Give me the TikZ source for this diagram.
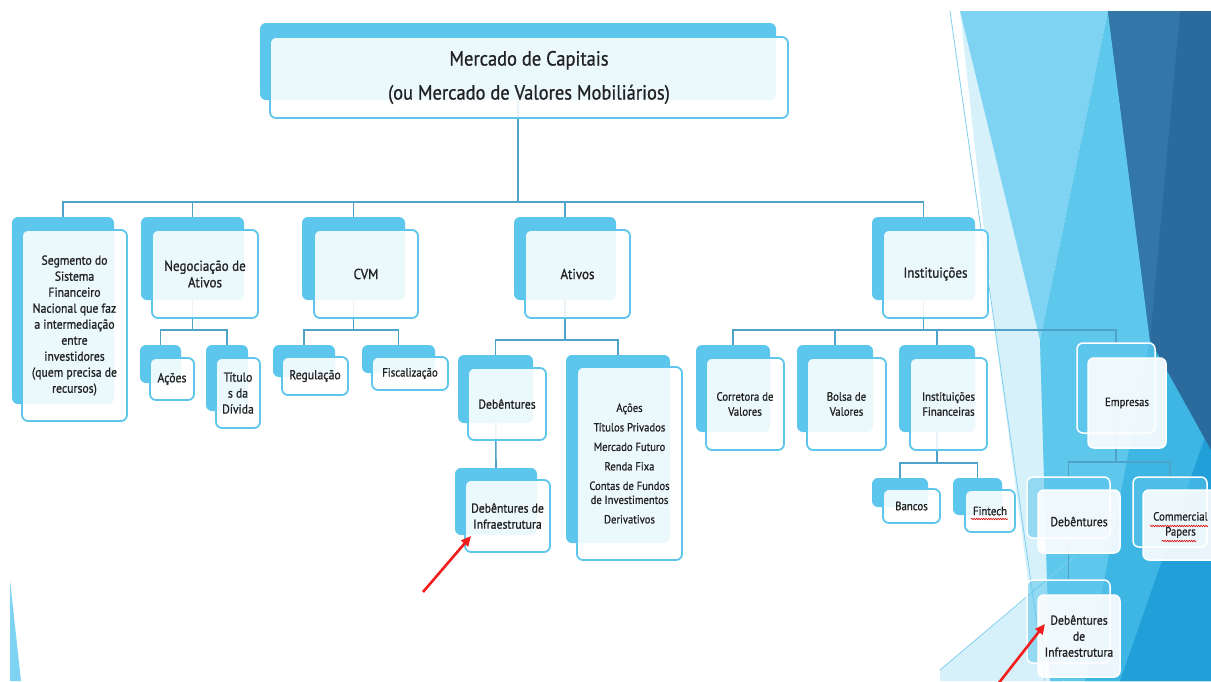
\documentclass[tikz,border=0pt]{standalone}
\usepackage{fontspec}
\setmainfont{PT Sans}[FakeStretch=0.9, FakeBold=0.9]
\usetikzlibrary{arrows.meta,decorations.pathmorphing}
\definecolor{cyanb}{HTML}{5CC6EC}
\definecolor{linec}{HTML}{4FA3CB}
\definecolor{txt}{HTML}{222222}
\definecolor{bglight}{HTML}{7DD3F1}
\definecolor{bgpale}{HTML}{D7F1FB}
\definecolor{bgmed}{HTML}{5DC7EC}
\definecolor{bgdarkA}{HTML}{3277A8}
\definecolor{bgdarkB}{HTML}{2A6A9D}
\definecolor{bgbright}{HTML}{209FD8}
\definecolor{bgmid}{HTML}{3DB6E4}
\definecolor{thinc}{HTML}{7ECFEF}
\definecolor{arrowred}{HTML}{F21D1D}
\pgfdeclarelayer{deco}
\pgfdeclarelayer{conn}
\pgfsetlayers{deco,conn,main}
\tikzset{
  bk/.style={fill=cyanb, draw=none, rounded corners=6pt, inner sep=0pt, outer sep=0pt, anchor=north west},
  fr/.style={fill=white, fill opacity=0.88, text opacity=1, draw=cyanb, line width=1.8pt, rounded corners=6pt, inner sep=0pt, outer sep=0pt, anchor=north west, text=txt, align=center},
  bkr/.style={fill=cyanb, fill opacity=0.55, draw=white, line width=1.5pt, rounded corners=6pt, inner sep=0pt, outer sep=0pt, anchor=north west},
  frr/.style={fill=white, fill opacity=0.9, text opacity=1, draw=white, line width=1.5pt, rounded corners=6pt, inner sep=0pt, outer sep=0pt, anchor=north west, text=txt, align=center},
  conn/.style={draw=linec, line width=1.6pt},
  thinline/.style={draw=thinc, line width=0.8pt},
  redarrow/.style={draw=arrowred, line width=2.6pt, -{Triangle[length=10pt,width=9pt]}},
  wavy/.style={draw=red!85!black, line width=0.6pt, decorate, decoration={snake, amplitude=0.7pt, segment length=2.4pt}},
  fA/.style={font=\fontsize{20.5}{34}\selectfont},
  fB/.style={font=\fontsize{14.5}{16.5}\selectfont},
  fC/.style={font=\fontsize{13}{16}\selectfont},
  fD/.style={font=\fontsize{12}{15}\selectfont},
}
\begin{document}
\begin{tikzpicture}[x=1pt,y=-1pt]
\useasboundingbox (0,0) rectangle (1211,681);
\begin{pgfonlayer}{deco}
  \fill[white] (0,0) rectangle (1211,681);
  \fill[bgpale] (960,11) -- (1040,340) -- (1062,681) -- (940,681) -- (940,670) -- (1030,595) -- (996,340) -- cycle;
  \fill[bglight] (960,11) -- (1108,11) -- (1040,340) -- cycle;
  \fill[bglight!70!bgpale] (1040,340) -- (1062,681) -- (1050,681) -- cycle;
  \fill[bgmed] (1108,11) -- (1211,11) -- (1211,681) -- (1050,681) -- (1040,340) -- cycle;
  \fill[bgmid] (1150,340) -- (1211,450) -- (1211,681) -- (1085,681) -- cycle;
  \fill[bgbright] (1211,420) -- (1211,681) -- (1120,681) -- cycle;
  \fill[bgdarkB] (1108,11) -- (1211,11) -- (1211,450) -- (1150,340) -- cycle;
  \fill[bgdarkA] (1108,11) -- (1180,11) -- (1150,340) -- cycle;
  \draw[thinline] (950,11) -- (1045,681);
  \draw[thinline] (940,670) -- (1075,556);
  \fill[bglight] (10,580) -- (21,681) -- (10,681) -- cycle;
\end{pgfonlayer}

% top
\node[bk, minimum width=516pt, minimum height=77pt] (topB) at (260,23) {};
\node[fr, fA, minimum width=518pt, minimum height=81pt] (topF) at (270,37) {Mercado de Capitais\\(ou Mercado de Valores Mobiliários)};

% level 1
\node[bk, minimum width=102pt, minimum height=187pt] (segB) at (12,217) {};
\node[fr, fC, minimum width=105pt, minimum height=191pt] (segF) at (22,230) {Segmento do\\Sistema\\Financeiro\\Nacional que faz\\a intermediação\\entre\\investidores\\(quem precisa de\\recursos)};
\node[bk, minimum width=103pt, minimum height=83pt] (negB) at (141,217) {};
\node[fr, fB, minimum width=106pt, minimum height=88pt] (negF) at (152,230) {Negociação de\\Ativos};
\node[bk, minimum width=103pt, minimum height=83pt] (cvmB) at (302,217) {};
\node[fr, fB, minimum width=104pt, minimum height=88pt] (cvmF) at (314,230) {CVM};
\node[bk, minimum width=102pt, minimum height=83pt] (atiB) at (514,217) {};
\node[fr, fB, minimum width=105pt, minimum height=88pt] (atiF) at (525,230) {Ativos};
\node[bk, minimum width=103pt, minimum height=83pt] (insB) at (872,217) {};
\node[fr, fB, minimum width=105pt, minimum height=88pt] (insF) at (883,230) {Instituições};

% Negociacao children
\node[bk, minimum width=41pt, minimum height=38pt] (acoB) at (140,345) {};
\node[fr, fC, minimum width=44pt, minimum height=42pt] (acoF) at (150,358) {Ações};
\node[bk, minimum width=42pt, minimum height=66pt] (titB) at (206,345) {};
\node[fr, fC, minimum width=44pt, minimum height=70pt] (titF) at (216,358) {Título\\s da\\Dívida};

% CVM children
\node[bk, minimum width=62pt, minimum height=32pt] (regB) at (273,345) {};
\node[fr, fC, minimum width=66pt, minimum height=38pt] (regF) at (282,357) {Regulação};
\node[bk, minimum width=73pt, minimum height=28pt] (fisB) at (362,345) {};
\node[fr, fD, minimum width=76pt, minimum height=33pt] (fisF) at (372,357) {Fiscalização};

% Ativos children
\node[bk, minimum width=75pt, minimum height=68pt] (debLB) at (458,355) {};
\node[fr, fC, minimum width=78pt, minimum height=72pt] (debLF) at (468,368) {Debêntures};
\node[bk, minimum width=104pt, minimum height=188pt] (lstB) at (566,355) {};
\node[fr, font=\fontsize{11.8}{14}\selectfont, minimum width=105pt, minimum height=193pt] (lstF) at (577,367) {Ações\\[5.5pt]Títulos Privados\\[5.5pt]Mercado Futuro\\[5.5pt]Renda Fixa\\[5.5pt]Contas de Fundos\\de Investimentos\\[5.5pt]Derivativos};
\node[bk, minimum width=82pt, minimum height=67pt] (infLB) at (455,468) {};
\node[fr, fC, minimum width=85pt, minimum height=72pt] (infLF) at (465,480) {Debêntures de\\Infraestrutura};

% Instituicoes children
\node[bk, minimum width=74pt, minimum height=87pt] (corB) at (696,345) {};
\node[fr, fD, minimum width=78pt, minimum height=92pt] (corF) at (706,358) {Corretora de\\Valores};
\node[bk, minimum width=76pt, minimum height=87pt] (bolB) at (797,345) {};
\node[fr, fD, minimum width=79pt, minimum height=92pt] (bolF) at (807,358) {Bolsa de\\Valores};
\node[bk, minimum width=76pt, minimum height=87pt] (ifnB) at (899,345) {};
\node[fr, fD, minimum width=77pt, minimum height=92pt] (ifnF) at (910,358) {Instituições\\Financeiras};
\node[bk, minimum width=56pt, minimum height=29pt] (banB) at (872,478) {};
\node[fr, fD, minimum width=57pt, minimum height=34pt] (banF) at (883,489) {Bancos};
\node[bk, minimum width=49pt, minimum height=37pt] (finB) at (953,478) {};
\node[fr, fD, minimum width=50pt, minimum height=42pt] (finF) at (965,490) {Fintech};

% Empresas and children
\node[bkr, minimum width=78pt, minimum height=90pt] (empB) at (1077,343) {};
\node[frr, fD, minimum width=78pt, minimum height=90pt] (empF) at (1088,358) {Empresas};
\node[bkr, minimum width=83pt, minimum height=61pt] (debRB) at (1027,477) {};
\node[frr, fC, minimum width=82pt, minimum height=63pt] (debRF) at (1038,490) {Debêntures};
\node[bkr, minimum width=74pt, minimum height=70pt] (comB) at (1133,477) {};
\node[frr, fD, minimum width=75pt, minimum height=70pt] (comF) at (1143,490) {Commercial\\Papers};
\node[bkr, minimum width=83pt, minimum height=83pt] (infRB) at (1027,580) {};
\node[frr, fC, minimum width=82pt, minimum height=82pt] (infRF) at (1038,595) {Debêntures\\de\\Infraestrutura};

% junction coordinates
\coordinate (busT) at (518,202);
\coordinate (negJ) at (192.5,330);
\coordinate (cvmJ) at (353.5,330);
\coordinate (atiJ) at (565,340);
\coordinate (insJ) at (923.5,330);
\coordinate (ifnJ) at (937,463);
\coordinate (empJ) at (1116,462);

\begin{pgfonlayer}{conn}
  \draw[conn] (topB.center) -- (busT);
  \draw[conn] (segB.north) |- (busT);
  \draw[conn] (negB.north) |- (busT);
  \draw[conn] (cvmB.north) |- (busT);
  \draw[conn] (atiB.north) |- (busT);
  \draw[conn] (insB.north) |- (busT);
  \draw[conn] (negB.center) -- (negJ);
  \draw[conn] (acoB.north) |- (negJ);
  \draw[conn] (titB.north) |- (negJ);
  \draw[conn] (cvmB.center) -- (cvmJ);
  \draw[conn] (regB.north) |- (cvmJ);
  \draw[conn] (fisB.north) |- (cvmJ);
  \draw[conn] (atiB.center) -- (atiJ);
  \draw[conn] (debLB.north) |- (atiJ);
  \draw[conn] (lstB.north) |- (atiJ);
  \draw[conn] (debLB.center) -- (infLB.north);
  \draw[conn] (insB.center) -- (insJ);
  \draw[conn] (corB.north) |- (insJ);
  \draw[conn] (bolB.north) |- (insJ);
  \draw[conn] (ifnB.north) |- (insJ);
  \draw[conn] (empB.north) |- (insJ);
  \draw[conn] (ifnB.center) -- (ifnJ);
  \draw[conn] (banB.north) |- (ifnJ);
  \draw[conn] (finB.north) |- (ifnJ);
  \draw[conn] (empB.center) -- (empJ);
  \draw[conn] (debRB.north) |- (empJ);
  \draw[conn] (comB.north) |- (empJ);
  \draw[conn] (debRB.center) -- (infRB.north);
\end{pgfonlayer}

% spell-check underlines
\draw[wavy] (971,519) -- (1008,519);
\draw[wavy] (1150,526) -- (1208,526);
\draw[wavy] (1162,541) -- (1196,541);

% red arrows
\coordinate (a1tail) at (423,592);
\coordinate (a1tip) at (471,536);
\coordinate (a2tail) at (998,684);
\coordinate (a2tip) at (1045,624);
\draw[redarrow] (a1tail) -- (a1tip);
\draw[redarrow] (a2tail) -- (a2tip);
\end{tikzpicture}
\end{document}
